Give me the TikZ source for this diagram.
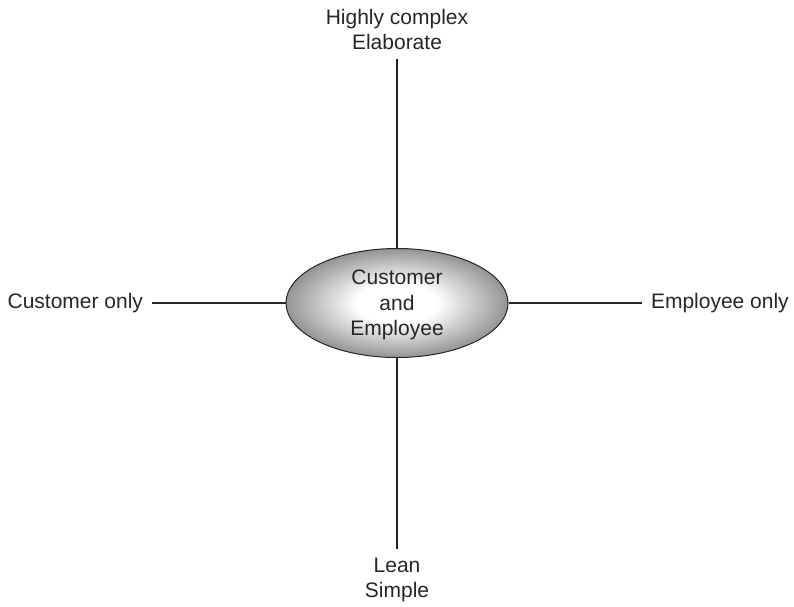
\documentclass[tikz,border=0pt]{standalone}
\usepackage{fontspec}
\setmainfont{Liberation Sans}
\usetikzlibrary{shapes.geometric}
\pgfdeclareradialshading{hubglow}{\pgfpoint{0bp}{0bp}}{color(0bp)=(white);
  color(9bp)=(white); color(25bp)=(black!42); color(50bp)=(black!42)}

\begin{document}
\begin{tikzpicture}[x=1pt, y=-1pt,
  pole/.style={inner sep=0, outer sep=9pt, align=center, text=black!85,
    font=\fontsize{21}{25.5}\selectfont},
  hub/.style={ellipse, draw=black!85, line width=1pt, inner sep=0,
    minimum width=222pt, minimum height=109pt, align=center, text=black!85,
    shading=hubglow, text depth=0pt,
    font=\fontsize{21}{25.5}\selectfont}]
  \useasboundingbox (0,0) rectangle (794,606);

  \node [hub] (core) at (397,303) {Customer\\and\\Employee};

  \node [pole, anchor=south] (high) at (397,59) {Highly complex\\Elaborate};
  \node [pole, anchor=north] (low) at (397,549) {Lean\\Simple};
  \node [pole, anchor=east] (cust) at (152,303) {Customer only};
  \node [pole, anchor=west] (empl) at (642,303) {Employee only};

  \draw [line width=1.2pt, black!85] (high)--(core) (core)--(low)
    (cust)--(core) (core)--(empl);
\end{tikzpicture}
\end{document}
